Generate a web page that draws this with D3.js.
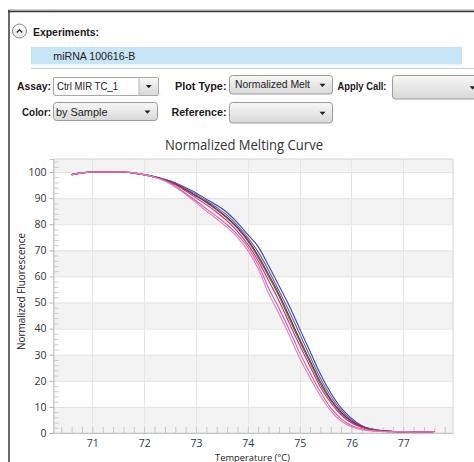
<!DOCTYPE html>
<html><head><meta charset="utf-8">
<script src="https://cdn.jsdelivr.net/npm/d3@7/dist/d3.min.js"></script>
<style>html,body{margin:0;padding:0;background:#fff;overflow:hidden}</style>
</head><body><svg id="c" width="474" height="462"></svg>
<script>
// ---------- data ----------
const temps = [70.6,70.8,71.0,71.2,71.4,71.6,71.8,72.0,72.2,72.4,72.6,72.8,73.0,73.2,73.4,73.6,73.8,74.0,74.2,74.4,74.6,74.8,75.0,75.2,75.4,75.6,75.8,76.0,76.2,76.4,76.6,76.8,77.0,77.2,77.4,77.6];
const blueA    = [99.0,99.6,99.9,100,100,99.9,99.6,99.0,98.3,97.2,95.9,94.0,92.0,89.6,87.3,84.5,80.6,76.0,71.4,64.2,56.5,48.8,40.0,31.3,22.6,15.4,9.6,5.6,2.8,1.5,0.9,0.6,0.5,0.5,0.4,0.6];
const blueB    = [99.1,99.7,100,100,100,99.9,99.6,99.0,98.2,97.1,95.7,93.6,91.4,89.0,86.4,83.5,79.6,74.9,69.4,62.4,54.6,46.6,38.0,29.4,21.0,14.2,8.8,5.1,2.6,1.4,0.8,0.6,0.5,0.5,0.4,0.6];
const green    = [99.0,99.7,100,100,100,100,99.7,99.0,98.2,97.0,95.5,93.2,90.8,88.3,85.5,82.3,78.4,73.5,67.3,60.0,52.5,43.8,35.2,27.0,18.8,12.5,7.7,4.4,2.4,1.3,0.8,0.6,0.5,0.5,0.4,0.6];
const darkRed  = [99.0,99.7,100,100,100,99.9,99.6,98.9,98.1,96.9,95.4,93.2,90.9,88.5,85.7,82.6,78.8,74.0,68.0,60.8,53.3,44.7,36.0,27.8,19.6,13.0,8.0,4.6,2.5,1.3,0.8,0.6,0.5,0.5,0.4,0.6];
const magentaA = [99.0,99.8,100,100,100,100,99.7,99.0,98.1,96.8,95.1,92.7,90.1,87.5,84.6,81.3,77.3,72.3,66.0,58.4,50.8,42.1,33.6,25.6,17.6,11.6,7.0,3.9,2.1,1.1,0.7,0.5,0.5,0.4,0.4,0.6];
const pinkB    = [99.0,99.7,100,100,100,100,99.7,99.0,98.0,96.7,94.6,91.9,89.0,85.9,83.0,79.8,76.0,71.2,64.6,55.6,47.9,39.6,30.8,23.0,15.8,9.6,5.4,2.9,1.5,0.9,0.6,0.5,0.5,0.4,0.4,0.6];
const pinkA    = [99.0,99.7,100,100,100,100,99.7,99.0,98.0,96.6,94.3,91.5,88.3,85.0,82.0,78.8,75.0,70.0,63.0,53.5,45.8,37.5,28.7,21.2,14.3,8.5,4.6,2.4,1.3,0.8,0.6,0.5,0.5,0.4,0.4,0.6];
const seriesList   = [blueA, blueB, green, darkRed, magentaA, pinkB, pinkA];
const seriesColors = ["#3c4aa9","#5866bf","#2f8a3e","#8a2432","#d62a80","#e2589f","#e87ab6"];
const xTicks = [71,72,73,74,75,76,77];
const yTicks = [0,10,20,30,40,50,60,70,80,90,100];
const bandStarts = [0,20,40,60,80,100];

const svg = d3.select("#c");
const uiFont = "'Liberation Sans', Arial, sans-serif";
const chFont = "'Open Sans', 'Noto Sans', sans-serif";

// ---------- frame ----------
svg.append("line").attr("x1",8).attr("x2",474).attr("y1",10).attr("y2",10).attr("stroke","#9a9a9a").attr("stroke-width",1);
svg.append("line").attr("x1",8).attr("x2",474).attr("y1",11.5).attr("y2",11.5).attr("stroke","#3a3a3a").attr("stroke-width",1.5);
svg.append("line").attr("x1",9).attr("x2",9).attr("y1",10).attr("y2",462).attr("stroke","#3a3a3a").attr("stroke-width",1.5);

const defs = svg.append("defs");
const g1 = defs.append("linearGradient").attr("id","gbtn").attr("x1",0).attr("y1",0).attr("x2",0).attr("y2",1);
g1.append("stop").attr("offset","0").attr("stop-color","#f8f8f8");
g1.append("stop").attr("offset","1").attr("stop-color","#d8d8d8");
const g2 = defs.append("linearGradient").attr("id","gcirc").attr("x1",0).attr("y1",0).attr("x2",0).attr("y2",1);
g2.append("stop").attr("offset","0").attr("stop-color","#ffffff");
g2.append("stop").attr("offset","1").attr("stop-color","#e4e4e4");

// expand icon
svg.append("circle").attr("cx",19.5).attr("cy",31).attr("r",7).attr("fill","url(#gcirc)").attr("stroke","#8a8a8a").attr("stroke-width",1);
svg.append("polyline").attr("points","16.8,32.6 19.5,29.8 22.2,32.6").attr("fill","none").attr("stroke","#333").attr("stroke-width",1.4);

function txt(x,y,s,opts){
  const t = svg.append("text").attr("x",x).attr("y",y).text(s)
    .attr("font-family",opts.font||uiFont).attr("font-size",opts.size||11)
    .attr("font-weight",opts.bold?"bold":"normal").attr("fill",opts.fill||"#1a1a1a");
  if(opts.anchor) t.attr("text-anchor",opts.anchor);
  if(opts.len) t.attr("textLength",opts.len).attr("lengthAdjust","spacingAndGlyphs");
  return t;
}
txt(33,35.5,"Experiments:",{bold:true,len:66});
svg.append("rect").attr("x",31).attr("y",47).attr("width",431).attr("height",17.5).attr("fill","#c6e6f7");
txt(53.3,59.5,"miRNA 100616-B",{len:82,fill:"#222"});
svg.append("line").attr("x1",31).attr("x2",474).attr("y1",68.5).attr("y2",68.5).attr("stroke","#cfcfcf");

function arrow(cx,cy){
  svg.append("path").attr("d",`M${cx-3},${cy-1.5} L${cx+3},${cy-1.5} L${cx},${cy+1.8} Z`).attr("fill","#222");
}
function dropdown(x,y,w,h,label,white,sepX){
  if(white){
    svg.append("rect").attr("x",x).attr("y",y).attr("width",w).attr("height",h).attr("rx",1.5).attr("fill","#fff").attr("stroke","#a8a8a8");
    svg.append("rect").attr("x",sepX).attr("y",y+0.5).attr("width",x+w-sepX-0.5).attr("height",h-1).attr("fill","url(#gbtn)");
    svg.append("line").attr("x1",sepX).attr("x2",sepX).attr("y1",y).attr("y2",y+h).attr("stroke","#b8b8b8");
    arrow((sepX+x+w)/2, y+h/2);
  } else {
    svg.append("rect").attr("x",x).attr("y",y).attr("width",w).attr("height",h).attr("rx",3).attr("fill","url(#gbtn)").attr("stroke","#9c9c9c");
    arrow(x+w-10, y+h/2+0.5);
  }
}
// row 1
txt(51,89.5,"Assay:",{bold:true,anchor:"end",len:34});
dropdown(53.5,77.5,105,18,null,true,139);
txt(57,90,"Ctrl MIR TC_1",{len:61,fill:"#222"});
txt(175,89.5,"Plot Type:",{bold:true,len:51.5});
dropdown(229.5,75.5,103,18.5,null,false);
txt(235,88,"Normalized Melt",{len:75,fill:"#222"});
txt(337.5,89.5,"Apply Call:",{bold:true,len:49});
dropdown(392.5,75.5,90,23.5,null,false);
// row 2
txt(51,115.5,"Color:",{bold:true,anchor:"end",len:29});
dropdown(53.5,102.5,104,18,null,false);
txt(56,115.5,"by Sample",{len:51.5,fill:"#222"});
txt(171.5,115.5,"Reference:",{bold:true,len:55});
dropdown(229.5,102.5,103,20.5,null,false);

// ---------- chart ----------
const L=53.5, R=453, T=159, B=433;
const x = d3.scaleLinear().domain([70.25,77.96]).range([L,R]);
const y = d3.scaleLinear().domain([0,105]).range([B,T]);

svg.append("rect").attr("x",L).attr("y",T).attr("width",R-L).attr("height",B-T).attr("fill","#fff");
svg.append("g").selectAll("rect").data(bandStarts).join("rect")
  .attr("x",L).attr("width",R-L)
  .attr("y",d=>y(Math.min(d+10,105))).attr("height",d=>y(d)-y(Math.min(d+10,105)))
  .attr("fill","#f3f3f3");
// grid
svg.append("g").selectAll("line").data(yTicks).join("line")
  .attr("x1",L).attr("x2",R).attr("y1",d=>y(d)+0.5).attr("y2",d=>y(d)+0.5)
  .attr("stroke","#e4e4e4");
svg.append("g").selectAll("line").data(xTicks).join("line")
  .attr("x1",d=>Math.round(x(d))+0.5).attr("x2",d=>Math.round(x(d))+0.5).attr("y1",T).attr("y2",B)
  .attr("stroke","#e6e6e6");
svg.append("rect").attr("x",L).attr("y",T).attr("width",R-L).attr("height",B-T).attr("fill","none").attr("stroke","#d6d6d6");

// y axis
const yAx = svg.append("g").attr("transform",`translate(${L},0)`)
  .call(d3.axisLeft(y).tickValues(yTicks).tickSize(4).tickPadding(3));
yAx.select(".domain").attr("stroke","#c4c4c4");
yAx.selectAll(".tick line").attr("stroke","#b4b4b4");
yAx.selectAll("text").attr("font-family",chFont).attr("font-size",10.5).attr("fill","#333");
const yMinor = svg.append("g").attr("transform",`translate(${L},0)`)
  .call(d3.axisRight(y).tickValues(d3.range(2,105,2).filter(v=>v%10!==0)).tickSize(5).tickFormat(""));
yMinor.select(".domain").remove();
yMinor.selectAll(".tick line").attr("stroke","#cdcdcd");

// x axis
const xAx = svg.append("g").attr("transform",`translate(0,${B})`)
  .call(d3.axisBottom(x).tickValues(xTicks).tickSize(0).tickPadding(7).tickFormat(d3.format("d")));
xAx.select(".domain").attr("stroke","#c4c4c4");
xAx.selectAll("text").attr("font-family",chFont).attr("font-size",10.5).attr("fill","#2b3a4a");
const xMinor = svg.append("g").attr("transform",`translate(0,${B})`)
  .call(d3.axisTop(x).tickValues(d3.range(70.4,77.81,0.2)).tickSize(6).tickFormat(""));
xMinor.select(".domain").remove();
xMinor.selectAll(".tick line").attr("stroke","#c8c8c8");

// curves
const line = d3.line().x((d,i)=>x(temps[i])).y(d=>y(d)).curve(d3.curveMonotoneX);
svg.append("g").selectAll("path").data(seriesList).join("path")
  .attr("d",line).attr("fill","none").attr("stroke",(d,i)=>seriesColors[i])
  .attr("stroke-width",1.1).attr("stroke-linejoin","round");

// titles
svg.append("text").attr("x",244).attr("y",150).attr("text-anchor","middle")
  .attr("font-family",chFont).attr("font-size",14).attr("fill","#333")
  .attr("textLength",158).attr("lengthAdjust","spacingAndGlyphs").text("Normalized Melting Curve");
svg.append("text").attr("transform","translate(24.5,291.5) rotate(-90)").attr("text-anchor","middle")
  .attr("font-family",chFont).attr("font-size",10).attr("fill","#222")
  .attr("textLength",117).attr("lengthAdjust","spacingAndGlyphs").text("Normalized Fluorescence");
svg.append("text").attr("x",252.5).attr("y",460.5).attr("text-anchor","middle")
  .attr("font-family",chFont).attr("font-size",8.5).attr("fill","#222")
  .attr("textLength",75).attr("lengthAdjust","spacingAndGlyphs").text("Temperature (°C)");
</script></body></html>
